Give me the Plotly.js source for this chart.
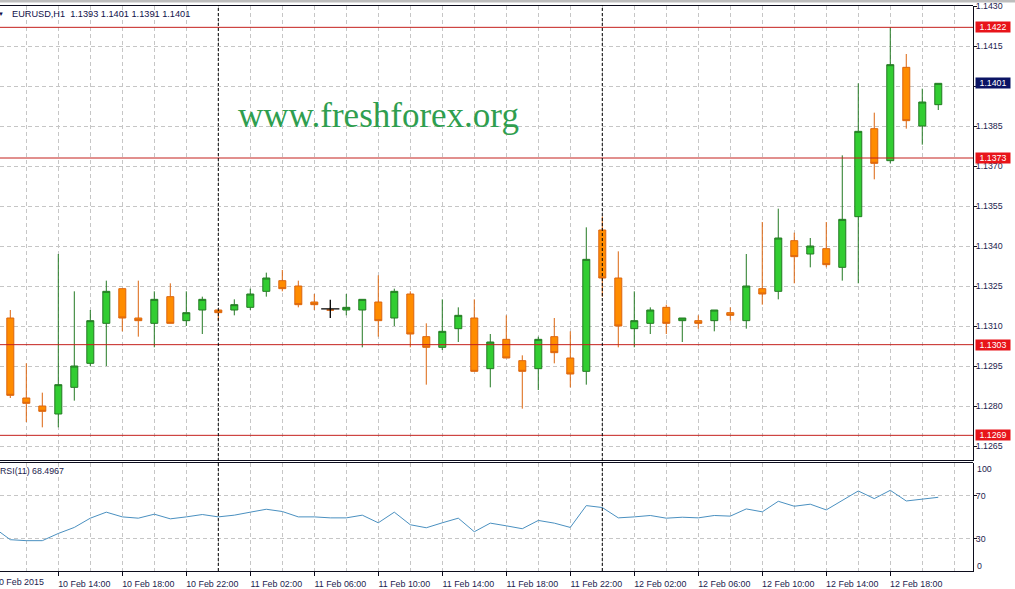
<!DOCTYPE html>
<html><head><meta charset="utf-8">
<script src="https://cdn.plot.ly/plotly-3.0.1.min.js"></script>
<style>html,body{margin:0;padding:0;background:#fff;overflow:hidden}#chart{width:1015px;height:589px;}</style>
</head><body><div id="chart"></div>
<script>
const symbol = 'EURUSD,H1';
const times = [
 '2015-02-10 10:00','2015-02-10 11:00','2015-02-10 12:00','2015-02-10 13:00','2015-02-10 14:00','2015-02-10 15:00','2015-02-10 16:00',
 '2015-02-10 17:00','2015-02-10 18:00','2015-02-10 19:00','2015-02-10 20:00','2015-02-10 21:00','2015-02-10 22:00','2015-02-10 23:00',
 '2015-02-11 00:00','2015-02-11 01:00','2015-02-11 02:00','2015-02-11 03:00','2015-02-11 04:00','2015-02-11 05:00','2015-02-11 06:00',
 '2015-02-11 07:00','2015-02-11 08:00','2015-02-11 09:00','2015-02-11 10:00','2015-02-11 11:00','2015-02-11 12:00','2015-02-11 13:00',
 '2015-02-11 14:00','2015-02-11 15:00','2015-02-11 16:00','2015-02-11 17:00','2015-02-11 18:00','2015-02-11 19:00','2015-02-11 20:00',
 '2015-02-11 21:00','2015-02-11 22:00','2015-02-11 23:00',
 '2015-02-12 00:00','2015-02-12 01:00','2015-02-12 02:00','2015-02-12 03:00','2015-02-12 04:00','2015-02-12 05:00','2015-02-12 06:00',
 '2015-02-12 07:00','2015-02-12 08:00','2015-02-12 09:00','2015-02-12 10:00','2015-02-12 11:00','2015-02-12 12:00','2015-02-12 13:00',
 '2015-02-12 14:00','2015-02-12 15:00','2015-02-12 16:00','2015-02-12 17:00','2015-02-12 18:00','2015-02-12 19:00','2015-02-12 20:00',
 '2015-02-12 21:00'
];
// candles start at 10 Feb 11:00 (times[1])
const open  = [1.1313,1.1283,1.1280,1.1277,1.1287,1.1296,1.1311,1.1324,1.1313,1.1311,1.1321,1.1312,1.1316,1.1316,1.1316,1.1317,1.1323,1.1327,1.1325,1.1319,
               1.1316,1.1316,1.1316,1.1319,1.1313,1.1322,1.1306,1.1302,1.1309,1.1313,1.1294,1.1305,1.1297,1.1294,1.1306,1.1298,1.1293,1.1346,1.1328,1.1309,
               1.1311,1.1317,1.1312,1.1312,1.1312,1.1315,1.1312,1.1324,1.1323,1.1342,1.1337,1.1339,1.1332,1.1351,1.1384,1.1372,1.1407,1.1385,1.1393];
const high  = [1.1316,1.1296,1.1285,1.1337,1.1323,1.1316,1.1327,1.1324,1.1327,1.1323,1.1326,1.1323,1.1321,1.1316,1.1320,1.1324,1.1330,1.1331,1.1327,1.1322,
               1.1317,1.1322,1.1320,1.1329,1.1324,1.1323,1.1311,1.1320,1.1317,1.1320,1.1307,1.1314,1.1299,1.1306,1.1313,1.1308,1.1347,1.1351,1.1338,1.1323,
               1.1317,1.1318,1.1313,1.1314,1.1316,1.1317,1.1337,1.1349,1.1354,1.1345,1.1343,1.1349,1.1374,1.1401,1.1390,1.1422,1.1412,1.1399,1.1401];
const low   = [1.1283,1.1274,1.1272,1.1272,1.1282,1.1295,1.1295,1.1308,1.1306,1.1302,1.1311,1.1310,1.1307,1.1312,1.1314,1.1316,1.1321,1.1323,1.1317,1.1316,
               1.1316,1.1314,1.1302,1.1306,1.1310,1.1302,1.1288,1.1301,1.1304,1.1293,1.1287,1.1298,1.1279,1.1286,1.1296,1.1287,1.1288,1.1321,1.1302,1.1302,
               1.1307,1.1307,1.1304,1.1309,1.1308,1.1312,1.1309,1.1318,1.1320,1.1326,1.1332,1.1332,1.1327,1.1326,1.1365,1.1371,1.1384,1.1378,1.1391];
const close = [1.1284,1.1281,1.1278,1.1288,1.1295,1.1312,1.1323,1.1313,1.1312,1.1320,1.1311,1.1315,1.1320,1.1315,1.1318,1.1322,1.1328,1.1324,1.1318,1.1318,
               1.1316,1.1317,1.1320,1.1312,1.1323,1.1307,1.1302,1.1308,1.1314,1.1293,1.1304,1.1298,1.1293,1.1305,1.1300,1.1292,1.1335,1.1328,1.1310,1.1312,
               1.1316,1.1311,1.1313,1.1311,1.1316,1.1314,1.1325,1.1322,1.1343,1.1336,1.1340,1.1333,1.1350,1.1383,1.1371,1.1408,1.1387,1.1394,1.1401];
// RSI(11) starts one bar earlier (times[0])
const rsi = [40,29.1,28.2,28.2,34.9,40.5,49.1,54.7,50.3,49.1,52.8,48.5,50.3,52.5,50.3,51.9,54.7,57.4,55.3,50.3,
             50.3,49.4,49.4,51.9,44.8,54.7,43,40.2,44.8,49.1,36.5,44.5,42,39.3,47,44.5,40.5,60.8,59,49.4,
             50.3,51.6,49.1,50,49.4,51.6,51,57.7,55,64.8,60.2,62.1,56.8,65.4,74.4,67.3,75,65.1,67,68.5];
const rsiLabel = 'RSI(11) 68.4967';
const levels = [1.1422, 1.1373, 1.1303, 1.1269];
const separators = ['2015-02-11 00:00', '2015-02-12 00:00'];
const timeLabels = ['2015-02-10 14:00','2015-02-10 18:00','2015-02-10 22:00','2015-02-11 02:00','2015-02-11 06:00','2015-02-11 10:00',
                    '2015-02-11 14:00','2015-02-11 18:00','2015-02-11 22:00','2015-02-12 02:00','2015-02-12 06:00','2015-02-12 10:00',
                    '2015-02-12 14:00','2015-02-12 18:00'];
const firstLabel = '10 Feb 2015';
const priceTicks = [1.1265,1.1280,1.1295,1.1310,1.1325,1.1340,1.1355,1.1370,1.1385,1.1400,1.1415,1.1430];
const rsiTicks = [30, 70];
const cursorTime = ['2015-02-11 07:00'];
const cursorPrice = [1.13164];
const watermark = 'www.freshforex.org';

const candleTimes = times.slice(1);
const last = close.length - 1;
const FONT = 'Liberation Sans, Arial, sans-serif';
const TXT = '#1c1c4e';
const GRID = '#c6c6c6';
const GDASH = '4px,3px';
const AX = '#0c0c1c';
const H = 566, BOT = 571; // plot area height / bottom pixel
const MAIN_TOP = 5.5, MAIN_BOT = 460.5, RSI_TOP = 462.5;

const traces = [
  {type:'candlestick', x:candleTimes, open:open, high:high, low:low, close:close, xaxis:'x', yaxis:'y',
   increasing:{line:{color:'#237a23', width:1}, fillcolor:'#32cd32'},
   decreasing:{line:{color:'#dc650e', width:1}, fillcolor:'#ff8c00'},
   whiskerwidth:0, hoverinfo:'skip', showlegend:false},
  {type:'scatter', mode:'lines', x:times, y:rsi, xaxis:'x', yaxis:'y2',
   line:{color:'#4a90c0', width:1}, hoverinfo:'skip', showlegend:false},
  {type:'scatter', mode:'markers', x:cursorTime, y:cursorPrice, xaxis:'x', yaxis:'y',
   marker:{symbol:'cross-thin', size:13, line:{color:'#000', width:1.3}}, hoverinfo:'skip', showlegend:false}
];

const shapes = [];
shapes.push({type:'line', xref:'paper', yref:'y domain', x0:0, x1:1, y0:1, y1:1, line:{color:AX, width:1}});
shapes.push({type:'line', xref:'paper', yref:'y domain', x0:0, x1:1, y0:0, y1:0, line:{color:AX, width:1}});
shapes.push({type:'line', xref:'paper', yref:'y2 domain', x0:0, x1:1, y0:1, y1:1, line:{color:AX, width:1}});
shapes.push({type:'rect', xref:'paper', yref:'paper', x0:0, x1:1.05, y0:1.0045, y1:1.01, line:{width:0}, fillcolor:'#bdbdbd', layer:'above'});
levels.forEach(v => shapes.push({type:'line', xref:'paper', yref:'y', x0:0, x1:1, y0:v, y1:v, line:{color:'#c4201c', width:1}}));
separators.forEach(t => shapes.push({type:'line', xref:'x', yref:'paper', x0:t, x1:t, y0:0, y1:1, line:{color:'#000', width:1, dash:'3px,2px'}}));

const annotations = [];
function boxLabel(v, bg) {
  annotations.push({xref:'paper', yref:'y', x:1, y:v, xanchor:'left', yanchor:'middle', xshift:2,
    text:v.toFixed(4), showarrow:false, bgcolor:bg, font:{family:FONT, size:8.8, color:'#fff'},
    width:34, height:10, borderpad:0, align:'center'});
}
levels.forEach(v => boxLabel(v, '#e8141a'));
boxLabel(close[last], '#0b1464');
annotations.push({xref:'paper', yref:'paper', x:10/973, y:(BOT-14)/H, xanchor:'left', yanchor:'middle',
  text: symbol + '\u00a0\u00a0' + [open[last], high[last], low[last], close[last]].map(v=>v.toFixed(4)).join(' '),
  showarrow:false, font:{family:FONT, size:9.2, color:'#10104a'}});
annotations.push({xref:'paper', yref:'paper', x:1.2/973, y:(BOT-14)/H, xanchor:'center', yanchor:'middle',
  text:'\u25BC', showarrow:false, font:{family:FONT, size:6, color:'#10104a'}});
annotations.push({xref:'paper', yref:'paper', x:378.5/973, y:(BOT-116)/H, xanchor:'center', yanchor:'middle',
  text:watermark, showarrow:false, font:{family:'Liberation Serif, Times New Roman, serif', size:35, color:'#2f9e4f'}});
const rsiH = BOT - RSI_TOP;
annotations.push({xref:'paper', yref:'y2 domain', x:0, y:(BOT-471)/rsiH, xanchor:'left', yanchor:'middle', xshift:-2,
  text:rsiLabel, showarrow:false, font:{family:FONT, size:8.8, color:TXT}});
annotations.push({xref:'paper', yref:'y2 domain', x:1, y:(BOT-469)/rsiH, xanchor:'left', yanchor:'middle', xshift:2,
  text:'100', showarrow:false, font:{family:FONT, size:8.8, color:TXT}});
annotations.push({xref:'paper', yref:'y2 domain', x:1, y:(BOT-566)/rsiH, xanchor:'left', yanchor:'middle', xshift:2,
  text:'0', showarrow:false, font:{family:FONT, size:8.8, color:TXT}});
annotations.push({xref:'paper', yref:'paper', x:0, y:-(582-BOT)/H, xanchor:'left', yanchor:'middle', xshift:-8,
  text:firstLabel, showarrow:false, font:{family:FONT, size:8.9, color:TXT}});

const pxPerPrice = 1/0.0000375;
const layout = {
  width:1015, height:589,
  margin:{l:0, r:42, t:5, b:18, pad:0},
  paper_bgcolor:'#fff', plot_bgcolor:'#fff',
  font:{family:FONT, size:8.8, color:TXT},
  showlegend:false, hovermode:false, boxgap:0.375,
  xaxis:{type:'date', anchor:'y2', range:['2015-02-10 10:21:22','2015-02-12 23:10:12'],
    rangeslider:{visible:false},
    tickmode:'array', tickvals:timeLabels, tickformat:'%-d %b %H:%M',
    ticks:'outside', ticklen:4, tickcolor:AX, ticklabelshift:26,
    showgrid:true, gridcolor:GRID, griddash:GDASH, gridwidth:1,
    minor:{tickmode:'linear', tick0:'2015-02-10 12:00', dtick:2*3600000, showgrid:true, gridcolor:GRID, griddash:GDASH, ticks:''},
    showline:true, linecolor:AX, linewidth:1, zeroline:false,
    tickfont:{family:FONT, size:8.9, color:TXT}, fixedrange:true},
  yaxis:{domain:[(BOT-MAIN_BOT)/H, (BOT-MAIN_TOP)/H],
    range:[1.1430 - (MAIN_BOT-6)/pxPerPrice, 1.1430 + (6-MAIN_TOP)/pxPerPrice], side:'right', anchor:'x',
    tickmode:'array', tickvals:priceTicks, ticktext:priceTicks.map(v => v === close[last] - 0.0001 ? '' : v.toFixed(4)),
    ticks:'outside', ticklen:3, tickcolor:AX, ticklabelstandoff:-3,
    showgrid:true, gridcolor:GRID, griddash:GDASH, zeroline:false,
    showline:true, linecolor:AX, linewidth:1,
    tickfont:{family:FONT, size:8.8, color:TXT}, fixedrange:true},
  yaxis2:{domain:[0, (BOT-RSI_TOP)/H], range:[0, (BOT-RSI_TOP)/1.0757], side:'right', anchor:'x',
    tickmode:'array', tickvals:rsiTicks, ticktext:rsiTicks.map(String),
    ticks:'outside', ticklen:3, tickcolor:AX, ticklabelstandoff:-3,
    showgrid:true, gridcolor:GRID, griddash:GDASH, zeroline:false,
    showline:true, linecolor:AX, linewidth:1,
    tickfont:{family:FONT, size:8.8, color:TXT}, fixedrange:true},
  shapes:shapes, annotations:annotations
};
// hide the 1.1400 label that sits under the current-price box
layout.yaxis.ticktext = priceTicks.map(v => Math.abs(v - close[last]) < 0.00015 ? '' : v.toFixed(4));
Plotly.newPlot('chart', traces, layout, {staticPlot:true, displayModeBar:false});
</script></body></html>
